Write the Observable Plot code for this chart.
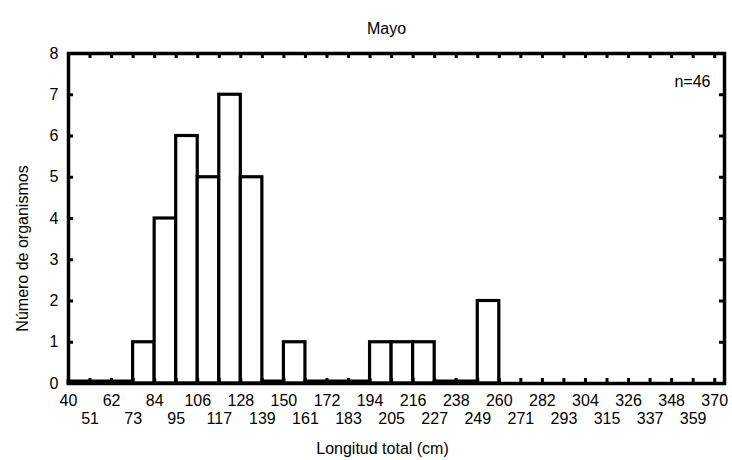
<!DOCTYPE html>
<html>
<head>
<meta charset="utf-8">
<script src="https://cdn.jsdelivr.net/npm/d3@7"></script>
<script src="https://cdn.jsdelivr.net/npm/@observablehq/plot@0.6"></script>
<style>
  html, body { margin: 0; padding: 0; background: white; }
</style>
</head>
<body>
<div id="chart"></div>
<script>
// Bin start values (cm), bin width 11
const binStarts = [40, 51, 62, 73, 84, 95, 106, 117, 128, 139, 150, 161, 172, 183, 194, 205, 216, 227, 238, 249];
// Number of organisms per bin
const counts    = [0, 0, 0, 1, 4, 6, 5, 7, 5, 0, 1, 0, 0, 0, 1, 1, 1, 0, 0, 2];
const binWidth = 11;
// Tick labels on the x axis
const xTicks = [40, 51, 62, 73, 84, 95, 106, 117, 128, 139, 150, 161, 172, 183, 194, 205, 216, 227, 238, 249, 260, 271, 282, 293, 304, 315, 326, 337, 348, 359, 370];
const yTicks = [0, 1, 2, 3, 4, 5, 6, 7, 8];
const title = "Mayo";
const xLabel = "Longitud total (cm)";
const yLabel = "Número de organismos";
const note = "n=46";

const data = binStarts.map((s, i) => ({start: s, end: s + binWidth, count: counts[i]}));
const xTop = xTicks.filter((d, i) => i % 2 === 0);
const xBottom = xTicks.filter((d, i) => i % 2 === 1);

const W = 732, H = 460, mT = 53, mB = 77, mL = 68, mR = 8;
const fw = W - mL - mR, fh = H - mT - mB, tl = 5;
const fs = 16;

const chart = Plot.plot({
  width: W,
  height: H,
  marginTop: mT,
  marginBottom: mB,
  marginLeft: mL,
  marginRight: mR,
  x: {domain: [40, 375]},
  y: {domain: [0, 8]},
  style: {fontFamily: "'Liberation Sans', Arial, sans-serif", fontSize: fs + "px", background: "white", color: "black"},
  marks: [
    Plot.rect(data.filter(d => d.count > 0), {x1: "start", x2: "end", y1: 0, y2: "count", fill: "white", stroke: "black", strokeWidth: 3.2}),
    Plot.rect(data.filter(d => d.count === 0), {x1: "start", x2: "end", y1: 0, y2: "count", insetTop: -2, fill: "white", stroke: "black", strokeWidth: 3}),
    Plot.frame({stroke: "black", strokeWidth: 3.5}),
    // inward tick marks
    Plot.tickX(xTicks, {x: d => d, insetTop: fh - tl, stroke: "black", strokeWidth: 3}),
    Plot.tickX(xTicks, {x: d => d, insetBottom: fh - tl, stroke: "black", strokeWidth: 3}),
    Plot.tickY(yTicks, {y: d => d, insetRight: fw - tl, stroke: "black", strokeWidth: 3}),
    Plot.tickY(yTicks, {y: d => d, insetLeft: fw - tl, stroke: "black", strokeWidth: 3}),
    // tick labels
    Plot.axisX({anchor: "bottom", ticks: xTop, tickSize: 0, tickPadding: 11, stroke: "none", label: null, fontSize: fs}),
    Plot.axisX({anchor: "bottom", ticks: xBottom, tickSize: 0, tickPadding: 29, stroke: "none", label: null, fontSize: fs}),
    Plot.axisY({anchor: "left", ticks: yTicks, tickSize: 0, tickPadding: 10, stroke: "none", label: null, fontSize: fs}),
    // titles
    Plot.text([title], {frameAnchor: "top", dy: -31, dx: -10, fontSize: fs}),
    Plot.text([xLabel], {frameAnchor: "bottom", dy: 70, dx: -14, fontSize: fs}),
    Plot.text([yLabel], {frameAnchor: "left", textAnchor: "middle", dx: -46, dy: 30, rotate: -90, fontSize: fs}),
    Plot.text([note], {frameAnchor: "top-right", textAnchor: "end", dx: -14, dy: 22, fontSize: fs})
  ]
});
document.getElementById("chart").appendChild(chart);
</script>
</body>
</html>
